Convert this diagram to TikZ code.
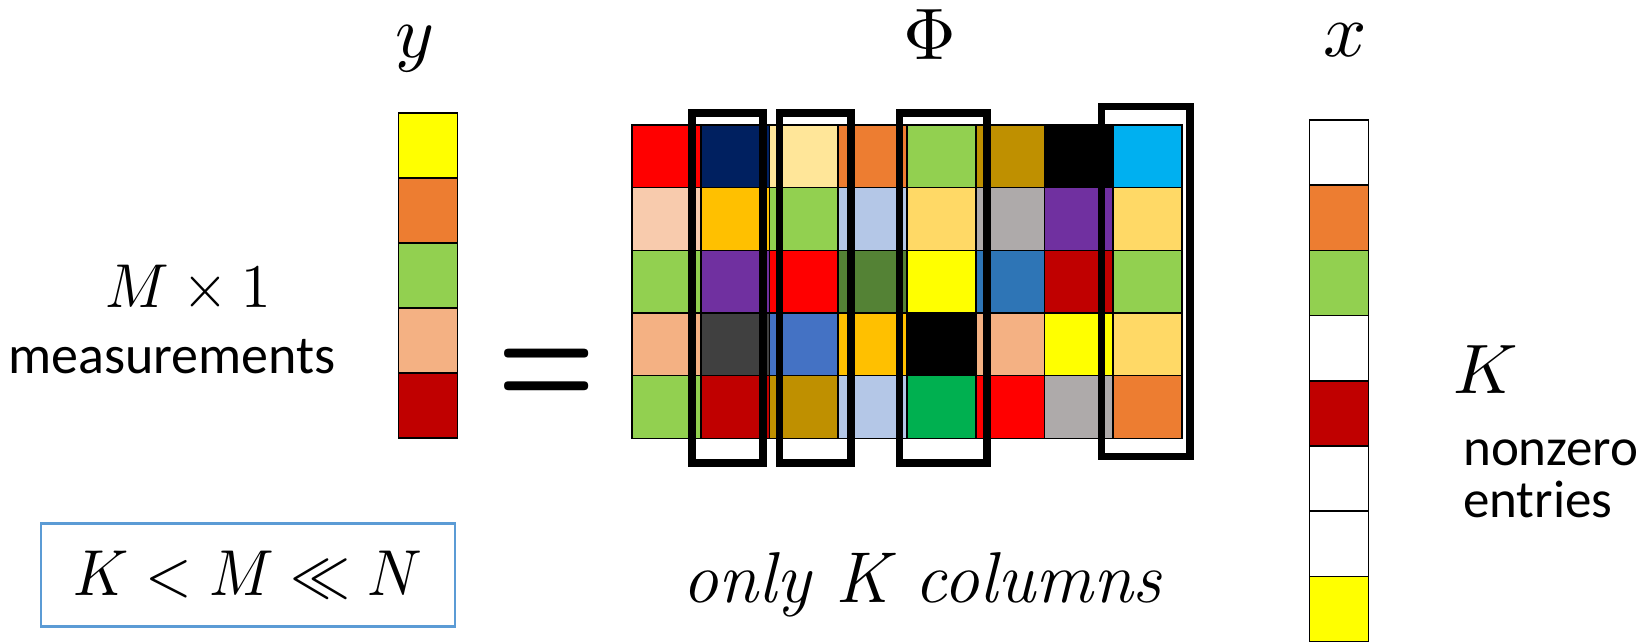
\documentclass[tikz,border=0pt]{standalone}
\usepackage{fontspec}
\newfontfamily\calib{Carlito}

% palette
\definecolor{cRed}{HTML}{FF0000}
\definecolor{cNavy}{HTML}{002060}
\definecolor{cCream}{HTML}{FFE699}
\definecolor{cOrange}{HTML}{ED7D31}
\definecolor{cLime}{HTML}{92D050}
\definecolor{cGold}{HTML}{BF9000}
\definecolor{cBlack}{HTML}{000000}
\definecolor{cSky}{HTML}{00B0F0}
\definecolor{cPeach}{HTML}{F8CBAD}
\definecolor{cAmber}{HTML}{FFC000}
\definecolor{cPale}{HTML}{B4C7E7}
\definecolor{cButter}{HTML}{FFD966}
\definecolor{cGray}{HTML}{AEAAAA}
\definecolor{cPurple}{HTML}{7030A0}
\definecolor{cForest}{HTML}{548235}
\definecolor{cYellow}{HTML}{FFFF00}
\definecolor{cSteel}{HTML}{2E75B6}
\definecolor{cCrimson}{HTML}{C00000}
\definecolor{cSalmon}{HTML}{F4B183}
\definecolor{cCharcoal}{HTML}{404040}
\definecolor{cBlue}{HTML}{4472C4}
\definecolor{cGreen}{HTML}{00B050}
\definecolor{cWhite}{HTML}{FFFFFF}
\definecolor{boxblue}{HTML}{5B9BD5}

\tikzset{
  cell/.style={draw=black, line width=1.6pt, minimum width=68.75pt,
    minimum height=62.67pt, inner sep=0pt, outer sep=0pt},
  vcell/.style={draw=black, line width=1.6pt, minimum width=59pt,
    minimum height=65.1pt, inner sep=0pt, outer sep=0pt},
  colframe/.style={draw=black, line width=7.3pt},
  lbl/.style={anchor=base, inner sep=0pt},
  word/.style={anchor=base west, inner sep=0pt, font=\calib\fontsize{53}{60}\selectfont},
}

\begin{document}
\begin{tikzpicture}[x=1pt, y=-1pt]
\useasboundingbox (0,0) rectangle (1649,643);

% sensing matrix Phi, 5 x 8 coloured cells
\foreach \rowcols [count=\r] in {
  {cRed,cNavy,cCream,cOrange,cLime,cGold,cBlack,cSky},
  {cPeach,cAmber,cLime,cPale,cButter,cGray,cPurple,cButter},
  {cLime,cPurple,cRed,cForest,cYellow,cSteel,cCrimson,cLime},
  {cSalmon,cCharcoal,cBlue,cAmber,cBlack,cSalmon,cYellow,cButter},
  {cLime,cCrimson,cGold,cPale,cGreen,cRed,cGray,cOrange}} {
  \foreach \col [count=\k] in \rowcols {
    \node[cell, fill=\col] (phi-\r-\k) at ({632+68.75*(\k-0.5)}, {125+62.67*(\r-0.5)}) {};
  }
}

% the K selected columns
\draw[colframe] (692,113) rectangle (763,463);
\draw[colframe] (779.5,113) rectangle (851,463);
\draw[colframe] (899.5,113) rectangle (987,463);
\draw[colframe] (1101.5,106.7) rectangle (1190,456.7);

% measurement vector y
\foreach \col [count=\i] in {cYellow,cOrange,cLime,cSalmon,cCrimson} {
  \node[vcell, fill=\col] (y-\i) at (427.8, {112.7+65.1*(\i-0.5)}) {};
}

% sparse vector x
\foreach \col [count=\i] in {cWhite,cOrange,cLime,cWhite,cCrimson,cWhite,cWhite,cYellow} {
  \node[vcell, minimum height=65.2pt, fill=\col] (x-\i) at (1339, {120+65.2*(\i-0.5)}) {};
}

% labels (math set at 10pt and scaled up)
\node[lbl] (ylab) at (415,57) {\scalebox{7.4}{$y$}};
\node[lbl] (philab) at (930,59) {\scalebox{7.3}{$\Phi$}};
\node[lbl] (xlab) at (1345.5,56) {\scalebox{7.6}{$x$}};

\node[lbl] (dims) at (188,307) {\scalebox{5.9}[6.2]{$M\times 1$}};
\node[lbl] (meas) at (172,373.5) {\calib\fontsize{54}{60}\selectfont measurements};

\node[lbl] (eq) at (547,406) {\scalebox{11}[14.6]{\boldmath$=$}};

\node[draw=boxblue, line width=2.3pt, minimum width=414pt, minimum height=103pt,
      inner sep=0pt] (cond) at (248,575) {\scalebox{6.0}[6.5]{$K < M \ll N$}};

\node[lbl] (onlyk) at (922,602) {\fontsize{72}{80}\selectfont\itshape only K columns};

\node[lbl] (klab) at (1486,393) {\scalebox{7.0}{$K$}};
\node[word] (nz) at (1463,465) {nonzero};
\node[word] (ent) at (1463,517) {entries};
\end{tikzpicture}
\end{document}
